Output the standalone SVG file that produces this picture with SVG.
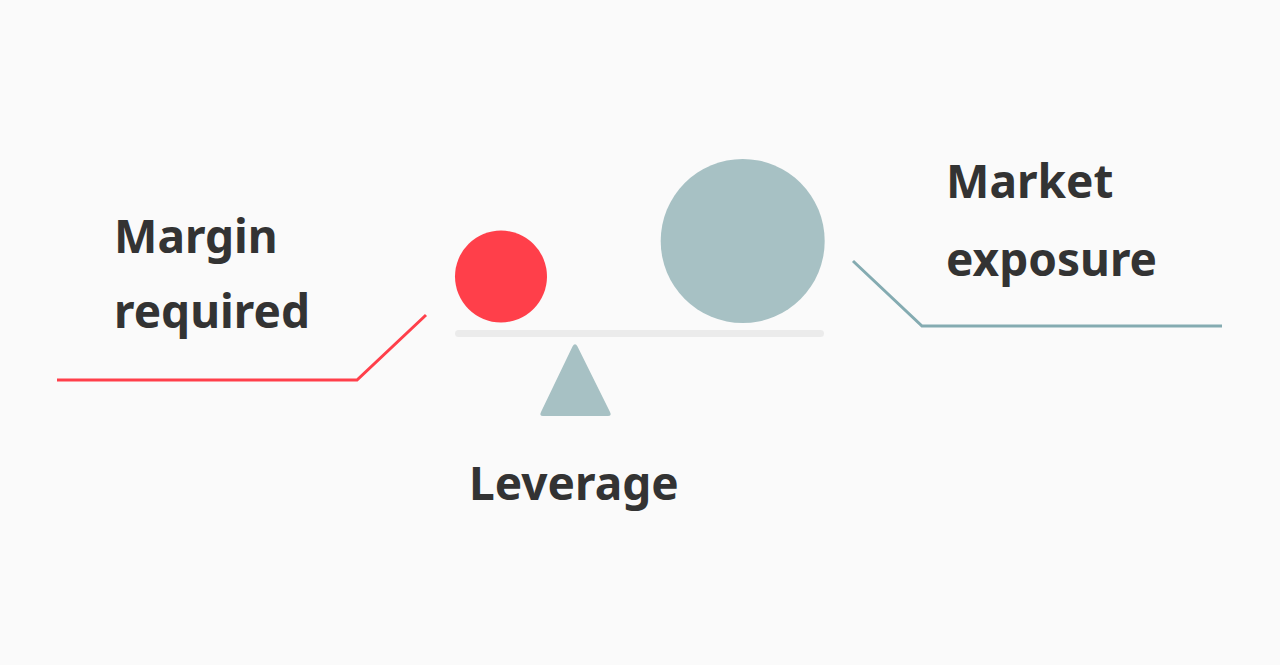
<svg xmlns="http://www.w3.org/2000/svg" width="1280" height="665" viewBox="0 0 1280 665">
  <style>
    .label { font-family: "Noto Sans", "Open Sans", "Liberation Sans", sans-serif; font-weight: 700; font-size: 46px; fill: #333333; }
    .teal { fill: #a7c1c4; }
    .lead { fill: none; stroke-width: 3; stroke-linejoin: miter; }
  </style>
  <rect width="1280" height="665" fill="#fafafa"/>

  <!-- leader lines -->
  <g id="connectors">
    <polyline class="lead" stroke="#ff3f4a" points="57,380 357,380 426,315"/>
    <polyline class="lead" stroke="#84abb1" points="853,261 922,326 1222,326"/>
  </g>

  <!-- seesaw -->
  <g id="beam">
    <rect x="455" y="330" width="369" height="7" rx="3.5" fill="#ebebeb"/>
  </g>
  <g id="fulcrum">
    <path class="teal" d="M572.5,346.5 Q575,342 577.5,346.5 L610,412 Q612,416 608,416 L543,416 Q539,416 541,412 Z"/>
  </g>
  <g id="margin-ball">
    <circle cx="501" cy="276.5" r="46" fill="#ff3f4a"/>
  </g>
  <g id="exposure-ball">
    <circle class="teal" cx="742.7" cy="241" r="82"/>
  </g>

  <!-- labels -->
  <g id="margin-label">
    <text class="label" x="114" y="253">Margin</text>
    <text class="label" x="114" y="328">required</text>
  </g>
  <g id="exposure-label">
    <text class="label" x="946" y="198">Market</text>
    <text class="label" x="946" y="276">exposure</text>
  </g>
  <g id="leverage-label">
    <text class="label" x="469" y="500">Leverage</text>
  </g>
</svg>
